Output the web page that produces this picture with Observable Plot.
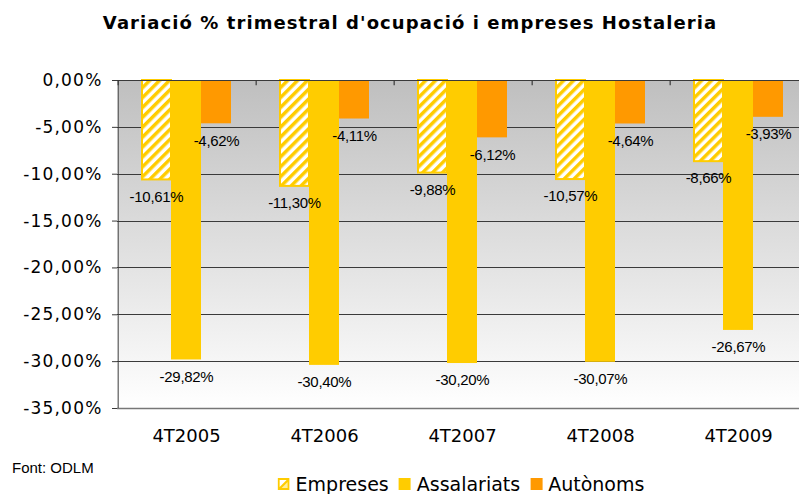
<!DOCTYPE html>
<html>
<head>
<meta charset="utf-8">
<script src="https://cdn.jsdelivr.net/npm/d3@7"></script>
<script src="https://cdn.jsdelivr.net/npm/@observablehq/plot@0.6"></script>
<style>
  html, body { margin: 0; padding: 0; background: #fff; overflow: hidden; }
  #wrap { position: relative; width: 799px; height: 494px; overflow: hidden; }
  #chart { position: absolute; left: 0; top: 0; width: 808px; }
  #chart svg { max-width: none !important; }
  #title { position: absolute; left: 410px; top: 13px; transform: translateX(-50%);
    font: bold 18px "DejaVu Sans"; letter-spacing: 1.08px; line-height: 20px; white-space: nowrap; color: #000; }
  #source { position: absolute; left: 12px; top: 460px; font: 15px "Liberation Sans"; line-height: 16px; color: #000; white-space: nowrap; }
  #legend { position: absolute; left: 461px; top: 474px; transform: translateX(-50%);
    font: 19px "DejaVu Sans"; line-height: 20px; white-space: nowrap; color: #000; }
  #legend .sw { display: inline-block; width: 12px; height: 12px; vertical-align: 1px; margin-right: 6px; }
  #legend .item { margin-right: 10px; }
  #legend .item:last-child { margin-right: 0; }
  g[aria-label="y-axis tick label"] text { letter-spacing: 1.2px; }
  g[aria-label="text"] text { letter-spacing: -0.3px; }
</style>
</head>
<body>
<div id="wrap">
  <div id="chart"></div>
  <div id="title">Variació % trimestral d'ocupació i empreses Hostaleria</div>
  <div id="source">Font: ODLM</div>
  <div id="legend"></div>
</div>
<script>
const categories = ["4T2005", "4T2006", "4T2007", "4T2008", "4T2009"];
const series = ["Empreses", "Assalariats", "Autònoms"];
const empreses = [-10.61, -11.30, -9.88, -10.57, -8.66];
const assalariats = [-29.82, -30.40, -30.20, -30.07, -26.67];
const autonoms = [-4.62, -4.11, -6.12, -4.64, -3.93];
const yTicks = [0, -5, -10, -15, -20, -25, -30, -35];
const colors = {"Empreses": "url(#hatch)", "Assalariats": "#FFCC00", "Autònoms": "#FF9900"};

const values = {"Empreses": empreses, "Assalariats": assalariats, "Autònoms": autonoms};
const data = [];
categories.forEach((c, i) => series.forEach(s => data.push({cat: c, series: s, value: values[s][i]})));

const fmt = v => v.toFixed(2).replace(".", ",") + "%";

const plot = Plot.plot({
  width: 808,
  height: 494,
  marginTop: 80,
  marginBottom: 86,
  marginLeft: 117,
  marginRight: 1,
  style: {fontFamily: "DejaVu Sans", background: "transparent", overflow: "visible", maxWidth: "none"},
  fx: {domain: categories, padding: 0, label: null, axis: null},
  x: {domain: series, paddingInner: 0, paddingOuter: 0.75, axis: null},
  y: {domain: [-35, 0], axis: null, label: null},
  marks: [
    Plot.frame({fill: "url(#bg)", stroke: null, facet: "super", shapeRendering: "crispEdges"}),
    Plot.ruleY(yTicks.filter(d => d !== 0 && d !== -35), {stroke: "#3a3a3a", strokeWidth: 1, shapeRendering: "crispEdges"}),
    Plot.ruleY([-35], {stroke: "#777", strokeWidth: 1.5}),
    Plot.barY(data.filter(d => d.series === "Empreses"), {fx: "cat", x: "series", y1: 0, y2: "value", fill: colors["Empreses"], stroke: "#FFCC00", strokeWidth: 2, insetLeft: 1, insetRight: 0}),
    Plot.barY(data.filter(d => d.series === "Assalariats"), {fx: "cat", x: "series", y1: 0, y2: "value", fill: colors["Assalariats"]}),
    Plot.barY(data.filter(d => d.series === "Autònoms"), {fx: "cat", x: "series", y1: 0, y2: "value", fill: colors["Autònoms"]}),
    Plot.ruleY([0], {stroke: "#3a3a3a", strokeWidth: 1.2}),
    Plot.ruleX([series[0]], {x: d => d, y1: 0, y2: -0.55, stroke: "#3a3a3a", strokeWidth: 1.2, dx: -38.33}),
    Plot.text(data, {fx: "cat", x: "series", y: "value", text: d => fmt(d.value), dy: 17, fontSize: 15, fontFamily: "Liberation Sans", fill: "#000"}),
    Plot.axisY(yTicks, {tickFormat: fmt, tickSize: 5, tickPadding: 10, fontSize: 17, stroke: "#3a3a3a", fill: "#000", label: null}),
    Plot.ruleX([{cat: categories[0], s: series[0]}], {fx: "cat", x: "s", y1: 0, y2: -35, stroke: "#3a3a3a", dx: -38.33}),
    Plot.axisFx({anchor: "bottom", tickSize: 0, tickPadding: 21, fontSize: 18, label: null, fill: "#000"})
  ]
});

d3.select(plot).insert("defs", ":first-child").html(
  `<linearGradient id="bg" x1="0" y1="0" x2="0" y2="1">
     <stop offset="0" stop-color="#bfbfbf"/>
     <stop offset="1" stop-color="#ffffff"/>
   </linearGradient>
   <pattern id="hatch" width="7" height="7" patternUnits="userSpaceOnUse" patternTransform="rotate(45)">
     <rect width="7" height="7" fill="#ffffff"/>
     <rect width="3.5" height="7" fill="#FFCC00"/>
   </pattern>`
);
document.getElementById("chart").appendChild(plot);

const legend = document.getElementById("legend");
series.forEach(s => {
  const item = document.createElement("span");
  item.className = "item";
  let sw;
  if (s === "Empreses") {
    sw = `<svg class="sw" width="12" height="12" viewBox="0 0 12 12"><rect x="0" y="0" width="12" height="12" fill="#FFCC00"/><polygon points="2,2 9,2 2,9" fill="#fff"/><polygon points="10,4 10,10 4,10" fill="#FFEE99"/></svg>`;
  } else {
    sw = `<span class="sw" style="background:${colors[s]}"></span>`;
  }
  item.innerHTML = sw + s;
  legend.appendChild(item);
});
</script>
</body>
</html>
